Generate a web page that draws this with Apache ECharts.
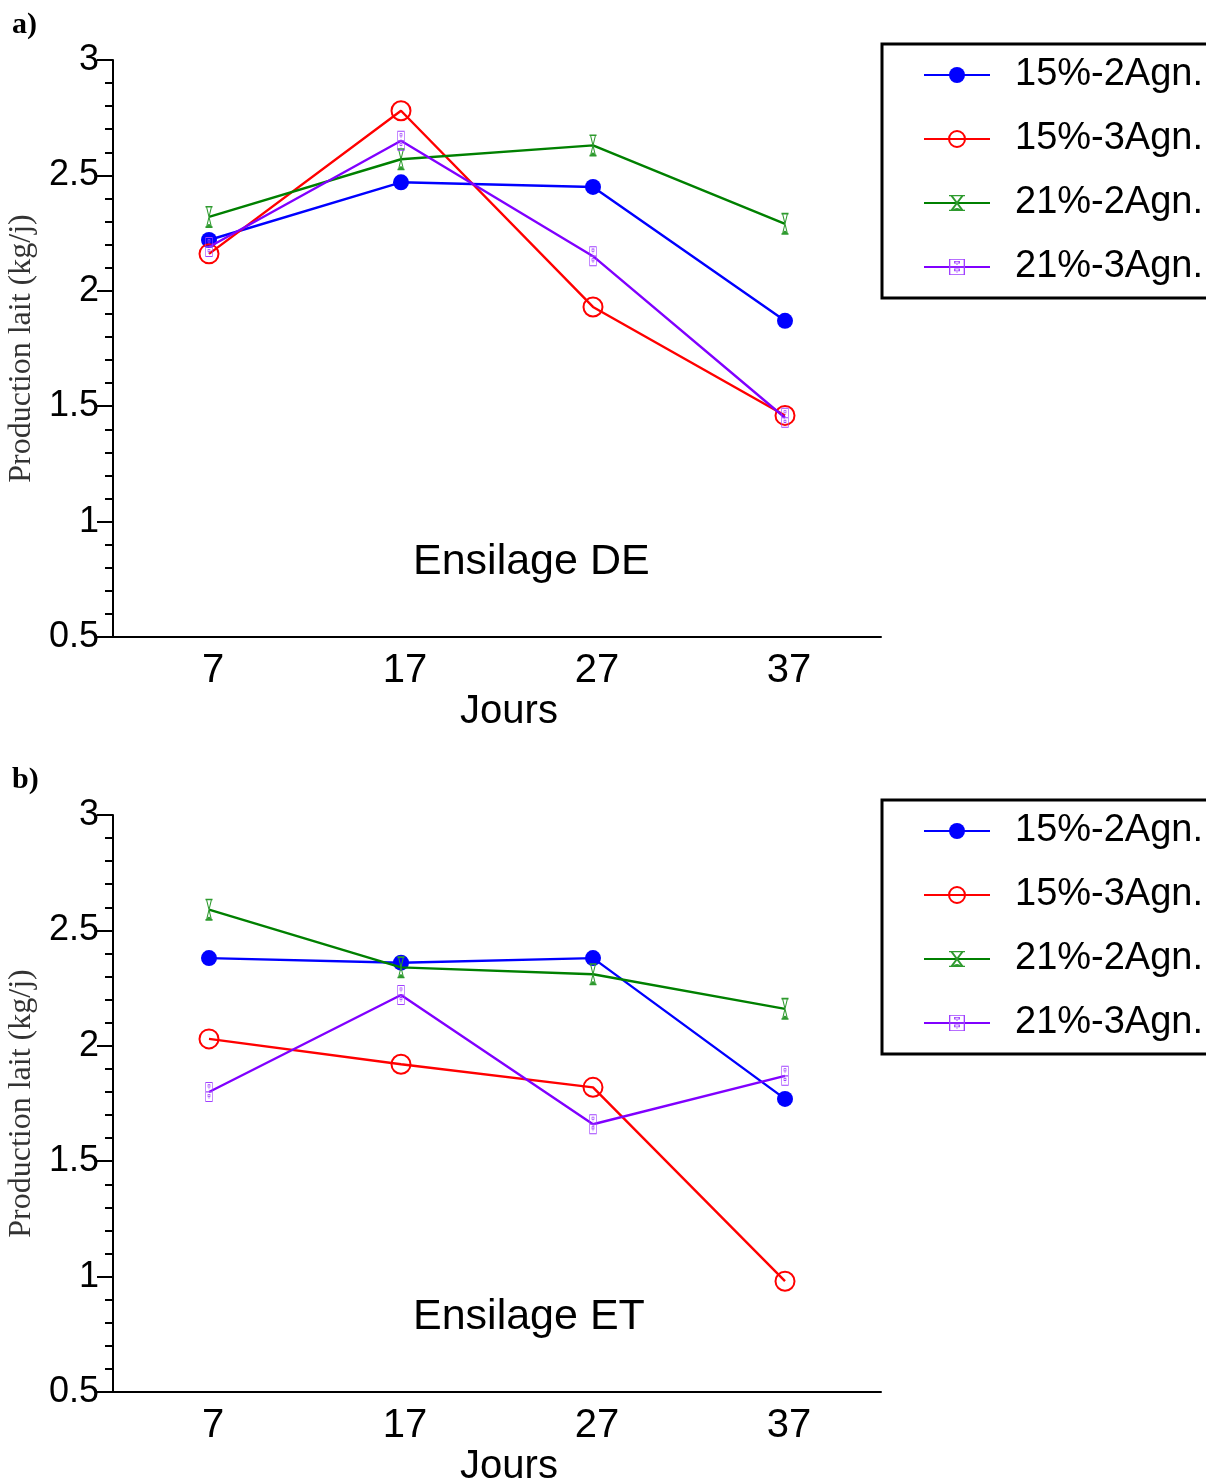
<!DOCTYPE html>
<html><head><meta charset="utf-8">
<script src="https://cdn.jsdelivr.net/npm/echarts@6/dist/echarts.min.js"></script>
<style>html,body{margin:0;padding:0;background:#fff;overflow:hidden}#c{width:1206px;height:1481px}</style>
</head><body><div id="c"></div>
<script>
const days = ['7', '17', '27', '37'];
const seriesNames = ['15%-2Agn.', '15%-3Agn.', '21%-2Agn.', '21%-3Agn.'];
// Panel a) Ensilage DE
const a_15_2 = [2.22, 2.47, 2.45, 1.87];
const a_15_3 = [2.16, 2.78, 1.93, 1.46];
const a_21_2 = [2.32, 2.57, 2.63, 2.29];
const a_21_3 = [2.19, 2.65, 2.15, 1.45];
// Panel b) Ensilage ET
const b_15_2 = [2.38, 2.36, 2.38, 1.77];
const b_15_3 = [2.03, 1.92, 1.82, 0.98];
const b_21_2 = [2.59, 2.34, 2.31, 2.16];
const b_21_3 = [1.80, 2.22, 1.66, 1.87];
const yTicks = { min: 0.5, max: 3, interval: 0.5 };

const hourglass = 'path://M0,0H12V1.6H0Z M0,20.4H12V22H0Z M1,1L2.8,1L11,21L9.2,21Z M9.2,1L11,1L2.8,21L1,21Z M2.5,21Q6,14.5 9.5,21Z';
const cabinet = 'path://M0,0H12V20H0Z M1,1V9.4H11V1Z M1,10.6V19H11V10.6Z' +
  ' M3.8,2.4H8.2V5.6H3.8Z M4.8,3.3V4.7H7.2V3.3Z M5.5,6.3H6.5V7.3H5.5Z' +
  ' M3.8,12H8.2V15.2H3.8Z M4.8,12.9V14.3H7.2V12.9Z M5.5,15.9H6.5V16.9H5.5Z';

const styles = [
  { line: '#0000ff', symbol: 'circle', size: 16, item: { color: '#0000ff' } },
  { line: '#ff0000', symbol: 'circle', size: 19, item: { color: 'rgba(255,255,255,0)', borderColor: '#ff0000', borderWidth: 2 } },
  { line: '#008000', symbol: hourglass, size: [13, 22], item: { color: '#2e9a2e' } },
  { line: '#8000ff', symbol: cabinet, size: [12, 20], item: { color: '#a040ff' } }
];

function mkSeries(idx, data, axisIdx) {
  const s = styles[idx];
  return {
    type: 'line', name: seriesNames[idx], data: data,
    xAxisIndex: axisIdx, yAxisIndex: axisIdx,
    symbol: s.symbol, symbolSize: s.size, symbolKeepAspect: true, showSymbol: true,
    lineStyle: { color: s.line, width: 2.4 },
    itemStyle: s.item, color: s.line,
    z: 2 + idx
  };
}

const sansNarrow = '"Liberation Sans Narrow", "Arial Narrow", "Liberation Sans", Arial';
function xAxis(gi) {
  return {
    type: 'category', gridIndex: gi, data: days, boundaryGap: true,
    axisLine: { lineStyle: { color: '#000', width: 2 } },
    axisTick: { length: 17, lineStyle: { color: '#000', width: 2 } },
    axisLabel: { color: '#000', fontSize: 40, fontFamily: sansNarrow, margin: 14, padding: [0, 0, 0, 8] },
    name: 'Jours', nameLocation: 'middle', nameGap: 52,
    nameTextStyle: { color: '#000', fontSize: 40, fontFamily: sansNarrow, padding: [0, 0, 0, 24] },
    splitLine: { show: false }
  };
}
function yAxis(gi) {
  return {
    type: 'value', gridIndex: gi, min: yTicks.min, max: yTicks.max, interval: yTicks.interval,
    axisLine: { show: true, lineStyle: { color: '#000', width: 2 } },
    axisTick: { show: true, length: 16, lineStyle: { color: '#000', width: 2 } },
    minorTick: { show: true, splitNumber: 5, length: 8, lineStyle: { color: '#000', width: 2 } },
    axisLabel: { color: '#000', fontSize: 36, fontFamily: '"Liberation Sans", Arial', margin: 14 },
    splitLine: { show: false },
    name: 'Production lait (kg/j)', nameLocation: 'middle', nameGap: 64, nameRotate: 90,
    nameTextStyle: { color: '#333', fontSize: 32, fontFamily: '"Liberation Serif", "Times New Roman", serif' }
  };
}
function legend(top) {
  return {
    left: 882, top: top, orient: 'vertical', data: seriesNames,
    borderColor: '#000', borderWidth: 3, padding: [11, 40, 11, 41],
    itemWidth: 66, itemHeight: 20, itemGap: 24,
    textStyle: { fontSize: 38, lineHeight: 40, color: '#000', fontFamily: '"Liberation Sans", Arial', padding: [0, 0, 0, 20] },
    selectedMode: false
  };
}

const chart = echarts.init(document.getElementById('c'), null, { renderer: 'canvas' });
chart.setOption({
  animation: false,
  backgroundColor: '#fff',
  grid: [
    { left: 113, top: 60, width: 768, height: 577, containLabel: false, outerBoundsMode: 'none' },
    { left: 113, top: 815, width: 768, height: 577, containLabel: false, outerBoundsMode: 'none' }
  ],
  xAxis: [xAxis(0), xAxis(1)],
  yAxis: [yAxis(0), yAxis(1)],
  legend: [legend(44), legend(800)],
  series: [
    mkSeries(0, a_15_2, 0), mkSeries(1, a_15_3, 0), mkSeries(2, a_21_2, 0), mkSeries(3, a_21_3, 0),
    mkSeries(0, b_15_2, 1), mkSeries(1, b_15_3, 1), mkSeries(2, b_21_2, 1), mkSeries(3, b_21_3, 1)
  ],
  graphic: [
    { type: 'text', left: 12, top: 10, style: { text: 'a)', font: 'bold 30px "Liberation Serif", serif', fill: '#000' } },
    { type: 'text', left: 12, top: 765, style: { text: 'b)', font: 'bold 30px "Liberation Serif", serif', fill: '#000' } },
    { type: 'text', left: 413, top: 541, style: { text: 'Ensilage DE', font: '43px "Liberation Sans", Arial', fill: '#000' } },
    { type: 'text', left: 413, top: 1296, style: { text: 'Ensilage ET', font: '43px "Liberation Sans", Arial', fill: '#000' } }
  ]
});
</script></body></html>
